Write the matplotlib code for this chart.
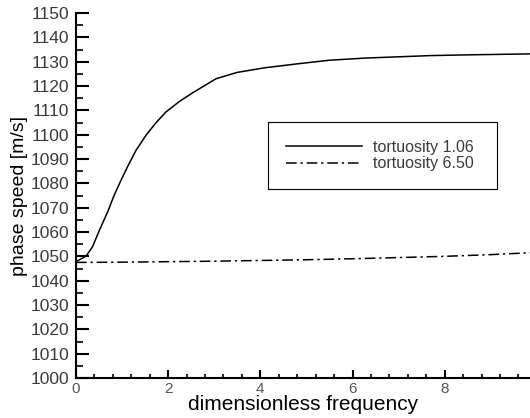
import numpy as np
import matplotlib
matplotlib.use('Agg')
import matplotlib.pyplot as plt
from matplotlib.ticker import MultipleLocator

# values
freq_solid = [0.0, 0.22, 0.36, 0.51, 0.69, 0.83, 0.98, 1.12, 1.30, 1.52, 1.74,
              1.95, 2.24, 2.53, 2.75, 3.04, 3.5, 4.1, 4.8, 5.5, 6.3, 7.0, 7.7,
              8.5, 9.87]
speed_solid = [1047.8, 1050.1, 1054.0, 1060.8, 1068.4, 1075.2, 1081.4, 1086.9,
               1093.5, 1099.8, 1105.0, 1109.3, 1113.6, 1117.2, 1119.7, 1123.0,
               1125.6, 1127.5, 1129.1, 1130.6, 1131.5, 1132.0, 1132.5, 1132.8,
               1133.2]

freq_dash = [0.0, 1.0, 2.0, 3.0, 4.0, 5.0, 6.0, 7.0, 8.0, 9.0, 9.87]
speed_dash = [1047.5, 1047.6, 1047.8, 1048.0, 1048.3, 1048.6, 1049.0, 1049.5,
              1050.0, 1050.7, 1051.5]

labels = ['tortuosity 1.06', 'tortuosity 6.50']

plt.rcParams['font.family'] = ['Liberation Sans', 'DejaVu Sans']
text_col = '#3a3a3a'

fig = plt.figure(figsize=(5.3, 4.18), dpi=100)
ax = fig.add_axes([76 / 530, 1 - 378 / 418, 1 - 76 / 530, (378 - 13) / 418])

ax.plot(freq_solid, speed_solid, color='black', lw=1.1, label=labels[0])
ax.plot(freq_dash, speed_dash, color='black', lw=1.1,
        linestyle=(0, (7, 2.5, 1.5, 2.5)), label=labels[1])

ax.set_xlim(0, 9.85)
ax.set_ylim(1000, 1150)

ax.spines['top'].set_visible(False)
ax.spines['right'].set_visible(False)
ax.spines['left'].set_linewidth(1.5)
ax.spines['bottom'].set_linewidth(1.5)

ax.xaxis.set_major_locator(MultipleLocator(2))
ax.xaxis.set_minor_locator(MultipleLocator(0.4))
ax.yaxis.set_major_locator(MultipleLocator(10))
ax.yaxis.set_minor_locator(MultipleLocator(5))

ax.tick_params(axis='x', which='major', direction='in', length=6, width=1.5,
               labelsize=11, pad=3, labelcolor='#555555')
ax.tick_params(axis='x', which='minor', direction='in', length=3, width=1.2)
ax.tick_params(axis='y', which='major', direction='in', length=9.5, width=1.5,
               labelsize=12.5, pad=5, labelcolor=text_col)
ax.tick_params(axis='y', which='minor', direction='in', length=5, width=1.2)

ax.set_xlabel('dimensionless frequency', fontsize=15, labelpad=-1)
ax.set_ylabel('phase speed [m/s]', fontsize=14, labelpad=2)

# legend box spans roughly x 268-497 px, y 122-188 px in the reference
leg = ax.legend(loc='upper left',
                bbox_to_anchor=((268 - 76) / 454, 1 - (188 - 13) / 365,
                                (497 - 268) / 454, (188 - 122) / 365),
                mode='expand', fontsize=11.5, frameon=True, fancybox=False,
                framealpha=1, handlelength=4.8, borderpad=1.1, labelspacing=0.1,
                handletextpad=0.7, borderaxespad=0)
leg.get_frame().set_edgecolor('black')
leg.get_frame().set_linewidth(0.8)
for t in leg.get_texts():
    t.set_color(text_col)

fig.savefig('out.png', dpi=100)
